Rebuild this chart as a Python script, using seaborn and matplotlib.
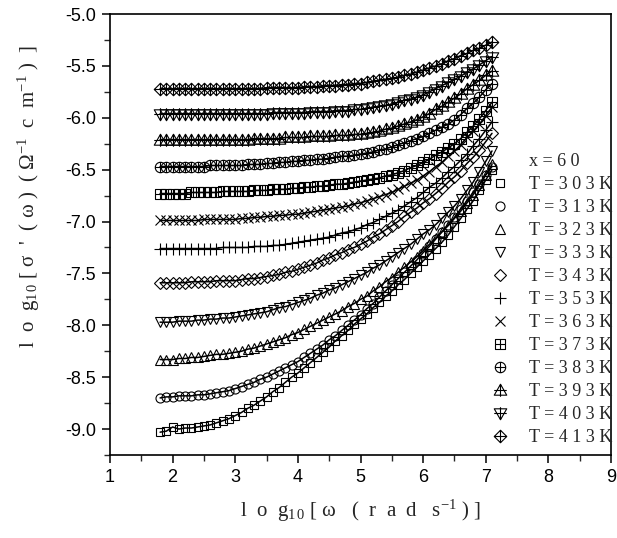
import numpy as np
import seaborn as sns
import matplotlib.pyplot as plt
from matplotlib.path import Path
from matplotlib.lines import Line2D
from matplotlib.ticker import MultipleLocator

# log10(omega) grid shared by all temperatures
log_w = [1.8, 1.9, 2.0, 2.1, 2.2, 2.3, 2.4, 2.5, 2.6, 2.7, 2.8, 2.9, 3.0, 3.1, 3.2, 3.3, 3.4, 3.5,
         3.6, 3.7, 3.8, 3.9, 4.0, 4.1, 4.2, 4.3, 4.4, 4.5, 4.6, 4.7, 4.8, 4.9, 5.0, 5.1, 5.2, 5.3,
         5.4, 5.5, 5.6, 5.7, 5.8, 5.9, 6.0, 6.1, 6.2, 6.3, 6.4, 6.5, 6.6, 6.7, 6.8, 6.9, 7.0, 7.1]

temps = [303, 313, 323, 333, 343, 353, 363, 373, 383, 393, 403, 413]

s303 = [-9.03, -9.02, -8.98, -9.00, -8.99, -8.99, -8.98, -8.97, -8.96, -8.94, -8.92, -8.90, -8.87, -8.84,
        -8.80, -8.77, -8.73, -8.69, -8.64, -8.60, -8.55, -8.50, -8.46, -8.41, -8.36, -8.31, -8.26, -8.21,
        -8.15, -8.10, -8.05, -7.99, -7.94, -7.89, -7.83, -7.78, -7.72, -7.67, -7.61, -7.56, -7.50, -7.44,
        -7.38, -7.32, -7.26, -7.20, -7.13, -7.05, -6.97, -6.88, -6.80, -6.70, -6.60, -6.50]
s313 = [-8.70, -8.69, -8.69, -8.68, -8.68, -8.68, -8.67, -8.67, -8.66, -8.65, -8.64, -8.63, -8.61, -8.59,
        -8.57, -8.55, -8.52, -8.50, -8.47, -8.44, -8.41, -8.38, -8.35, -8.31, -8.27, -8.23, -8.19, -8.14,
        -8.10, -8.05, -8.00, -7.95, -7.90, -7.84, -7.79, -7.73, -7.67, -7.61, -7.55, -7.49, -7.43, -7.37,
        -7.30, -7.24, -7.17, -7.10, -7.03, -6.96, -6.88, -6.80, -6.72, -6.64, -6.55, -6.47]
s323 = [-8.33, -8.33, -8.33, -8.32, -8.32, -8.31, -8.31, -8.30, -8.29, -8.28, -8.28, -8.27, -8.26, -8.25,
        -8.23, -8.22, -8.20, -8.18, -8.16, -8.14, -8.12, -8.09, -8.07, -8.04, -8.01, -7.98, -7.95, -7.92,
        -7.89, -7.86, -7.82, -7.79, -7.75, -7.72, -7.67, -7.63, -7.58, -7.54, -7.49, -7.44, -7.39, -7.34,
        -7.28, -7.22, -7.16, -7.10, -7.04, -6.97, -6.90, -6.82, -6.74, -6.65, -6.55, -6.45]
s333 = [-7.97, -7.97, -7.97, -7.96, -7.96, -7.96, -7.95, -7.95, -7.94, -7.94, -7.93, -7.93, -7.92, -7.91,
        -7.90, -7.89, -7.88, -7.87, -7.85, -7.83, -7.82, -7.80, -7.78, -7.76, -7.74, -7.71, -7.69, -7.66,
        -7.64, -7.61, -7.58, -7.55, -7.52, -7.49, -7.45, -7.42, -7.38, -7.34, -7.30, -7.26, -7.22, -7.17,
        -7.12, -7.08, -7.03, -6.97, -6.91, -6.85, -6.78, -6.70, -6.62, -6.52, -6.42, -6.32]
s343 = [-7.59, -7.59, -7.59, -7.59, -7.59, -7.58, -7.58, -7.58, -7.58, -7.57, -7.57, -7.57, -7.57, -7.56,
        -7.55, -7.55, -7.54, -7.53, -7.52, -7.51, -7.49, -7.48, -7.46, -7.44, -7.42, -7.40, -7.37, -7.35,
        -7.32, -7.30, -7.27, -7.25, -7.22, -7.19, -7.15, -7.12, -7.08, -7.04, -7.00, -6.95, -6.91, -6.87,
        -6.82, -6.78, -6.73, -6.68, -6.62, -6.57, -6.51, -6.44, -6.38, -6.31, -6.23, -6.15]
s353 = [-7.26, -7.26, -7.26, -7.26, -7.26, -7.26, -7.26, -7.26, -7.26, -7.26, -7.25, -7.25, -7.25, -7.25,
        -7.25, -7.24, -7.24, -7.24, -7.23, -7.23, -7.22, -7.21, -7.20, -7.19, -7.18, -7.17, -7.16, -7.15,
        -7.13, -7.11, -7.10, -7.08, -7.06, -7.03, -7.01, -6.98, -6.95, -6.92, -6.89, -6.85, -6.81, -6.77,
        -6.72, -6.67, -6.63, -6.58, -6.52, -6.47, -6.41, -6.35, -6.27, -6.20, -6.12, -6.04]
s363 = [-6.99, -6.99, -6.99, -6.99, -6.99, -6.99, -6.99, -6.98, -6.98, -6.98, -6.98, -6.98, -6.98, -6.97,
        -6.97, -6.96, -6.96, -6.95, -6.95, -6.94, -6.94, -6.93, -6.93, -6.92, -6.91, -6.90, -6.89, -6.88,
        -6.87, -6.86, -6.85, -6.83, -6.82, -6.80, -6.78, -6.76, -6.74, -6.72, -6.69, -6.66, -6.63, -6.60,
        -6.56, -6.52, -6.47, -6.43, -6.37, -6.32, -6.26, -6.19, -6.13, -6.06, -5.98, -5.90]
s373 = [-6.73, -6.73, -6.73, -6.73, -6.73, -6.72, -6.72, -6.72, -6.72, -6.72, -6.71, -6.71, -6.71, -6.71,
        -6.71, -6.70, -6.70, -6.70, -6.69, -6.69, -6.69, -6.68, -6.68, -6.67, -6.67, -6.66, -6.66, -6.65,
        -6.64, -6.64, -6.63, -6.62, -6.61, -6.60, -6.59, -6.58, -6.56, -6.55, -6.53, -6.51, -6.48, -6.46,
        -6.43, -6.40, -6.36, -6.33, -6.29, -6.25, -6.20, -6.14, -6.08, -6.01, -5.93, -5.85]
s383 = [-6.47, -6.47, -6.47, -6.47, -6.47, -6.47, -6.47, -6.47, -6.46, -6.46, -6.46, -6.46, -6.46, -6.46,
        -6.45, -6.45, -6.45, -6.44, -6.44, -6.43, -6.43, -6.42, -6.42, -6.41, -6.41, -6.40, -6.40, -6.39,
        -6.38, -6.37, -6.37, -6.36, -6.35, -6.34, -6.33, -6.31, -6.30, -6.28, -6.26, -6.24, -6.22, -6.20,
        -6.18, -6.15, -6.12, -6.09, -6.06, -6.02, -5.97, -5.91, -5.86, -5.80, -5.73, -5.67]
s393 = [-6.21, -6.21, -6.21, -6.21, -6.21, -6.21, -6.21, -6.21, -6.21, -6.21, -6.21, -6.21, -6.21, -6.21,
        -6.21, -6.20, -6.20, -6.20, -6.20, -6.20, -6.19, -6.19, -6.19, -6.19, -6.18, -6.18, -6.18, -6.18,
        -6.17, -6.17, -6.17, -6.16, -6.16, -6.15, -6.14, -6.13, -6.11, -6.10, -6.08, -6.06, -6.04, -6.02,
        -5.99, -5.96, -5.92, -5.89, -5.85, -5.81, -5.77, -5.72, -5.68, -5.64, -5.59, -5.55]
s403 = [-5.96, -5.96, -5.96, -5.96, -5.96, -5.96, -5.96, -5.96, -5.96, -5.96, -5.96, -5.96, -5.96, -5.96,
        -5.96, -5.96, -5.96, -5.96, -5.95, -5.95, -5.95, -5.95, -5.95, -5.95, -5.94, -5.94, -5.94, -5.94,
        -5.93, -5.93, -5.93, -5.92, -5.92, -5.91, -5.90, -5.89, -5.88, -5.87, -5.85, -5.83, -5.82, -5.80,
        -5.78, -5.75, -5.72, -5.69, -5.66, -5.63, -5.60, -5.56, -5.53, -5.49, -5.45, -5.41]
s413 = [-5.72, -5.72, -5.72, -5.72, -5.72, -5.72, -5.72, -5.72, -5.72, -5.72, -5.72, -5.72, -5.72, -5.72,
        -5.72, -5.72, -5.72, -5.71, -5.71, -5.71, -5.71, -5.71, -5.71, -5.70, -5.70, -5.70, -5.69, -5.69,
        -5.69, -5.68, -5.68, -5.67, -5.67, -5.66, -5.65, -5.64, -5.63, -5.62, -5.61, -5.59, -5.58, -5.56,
        -5.54, -5.52, -5.50, -5.48, -5.45, -5.43, -5.40, -5.38, -5.35, -5.33, -5.30, -5.27]

series = [s303, s313, s323, s333, s343, s353, s363, s373, s383, s393, s403, s413]


def with_plus(verts):
    # closed outline + a cross drawn through it
    v = list(verts) + [verts[0]]
    codes = [Path.MOVETO] + [Path.LINETO] * (len(verts) - 1) + [Path.CLOSEPOLY]
    v += [(-1, 0), (1, 0), (0, -1), (0, 1)]
    codes += [Path.MOVETO, Path.LINETO, Path.MOVETO, Path.LINETO]
    return Path(v, codes)


circ = Path.unit_circle()
circ_plus = Path(np.concatenate([circ.vertices, [[-1, 0], [1, 0], [0, -1], [0, 1]]]),
                 np.concatenate([circ.codes, [Path.MOVETO, Path.LINETO, Path.MOVETO, Path.LINETO]]))
sq_plus = with_plus([(-1, -1), (1, -1), (1, 1), (-1, 1)])
tri_up_plus = with_plus([(0, 1), (-1, -0.75), (1, -0.75)])
tri_dn_plus = with_plus([(0, -1), (-1, 0.75), (1, 0.75)])
dia_plus = with_plus([(0, 1), (1, 0), (0, -1), (-1, 0)])

markers = ['s', 'o', '^', 'v', 'D', '+', 'x', sq_plus, circ_plus, tri_up_plus, tri_dn_plus, dia_plus]
sizes = [6, 6.5, 7, 7, 6, 8, 7, 7, 7.5, 9, 9, 9]

sns.set_style("ticks")
plt.rcParams['font.family'] = ['Liberation Serif', 'DejaVu Serif']
plt.rcParams['mathtext.fontset'] = 'custom'
plt.rcParams['mathtext.rm'] = 'Liberation Serif'
plt.rcParams['mathtext.it'] = 'Liberation Serif:italic'
plt.rcParams['axes.unicode_minus'] = False

fig, ax = plt.subplots(figsize=(6.17, 5.38), dpi=100)
fig.subplots_adjust(left=110 / 617, right=611 / 617, top=1 - 14 / 538, bottom=1 - 455 / 538)

for y, m, ms in zip(series, markers, sizes):
    sns.lineplot(x=log_w, y=y, ax=ax, color='k', linewidth=1.1, marker=m, markersize=ms,
                 markerfacecolor='none', markeredgecolor='k', markeredgewidth=0.8)

ax.set_xlim(1, 9)
ax.set_ylim(-9.25, -5.0)
ax.xaxis.set_major_locator(MultipleLocator(1))
ax.xaxis.set_minor_locator(MultipleLocator(0.5))
ax.yaxis.set_major_locator(MultipleLocator(0.5))
ax.yaxis.set_minor_locator(MultipleLocator(0.25))
ax.yaxis.set_major_formatter(plt.FormatStrFormatter('%.1f'))
ax.tick_params(which='major', direction='out', length=6, width=1.1, labelsize=13, colors='k', pad=4)
ax.tick_params(which='minor', direction='out', length=4, width=1.0)
for lab in ax.get_xticklabels() + ax.get_yticklabels():
    lab.set_fontfamily('Liberation Sans')
for sp in ax.spines.values():
    sp.set_linewidth(1.2)
    sp.set_color('k')

ax.set_xlabel('l  o  g$_{1\\,0}$ [ ω   (  r  a  d   s$^{ -1}$ ) ]', fontsize=15)
ax.set_ylabel("l  o  g$_{1\\,0}$ [ σ  '  ( ω )  ( Ω$^{ -1}$  c  m$^{ -1}$ )  ]", fontsize=15)
ax.xaxis.set_label_coords(0.5, -0.097)
ax.yaxis.set_label_coords(-0.135, 0.585)

handles = [Line2D([], [], ls='', marker='')]
labels = ['x = 6 0']
for t, m, ms in zip(temps, markers, sizes):
    handles.append(Line2D([], [], ls='', marker=m, markersize=ms, markerfacecolor='none',
                          markeredgecolor='k', markeredgewidth=0.8))
    labels.append('T = ' + ' '.join(str(t)) + ' K')
ax.legend(handles, labels, loc='lower right', bbox_to_anchor=(1.02, 0.0), frameon=False,
          fontsize=13, handlelength=1.0, handletextpad=1.1, labelspacing=0.33, borderaxespad=0.1)

fig.savefig('out.png', dpi=100)
